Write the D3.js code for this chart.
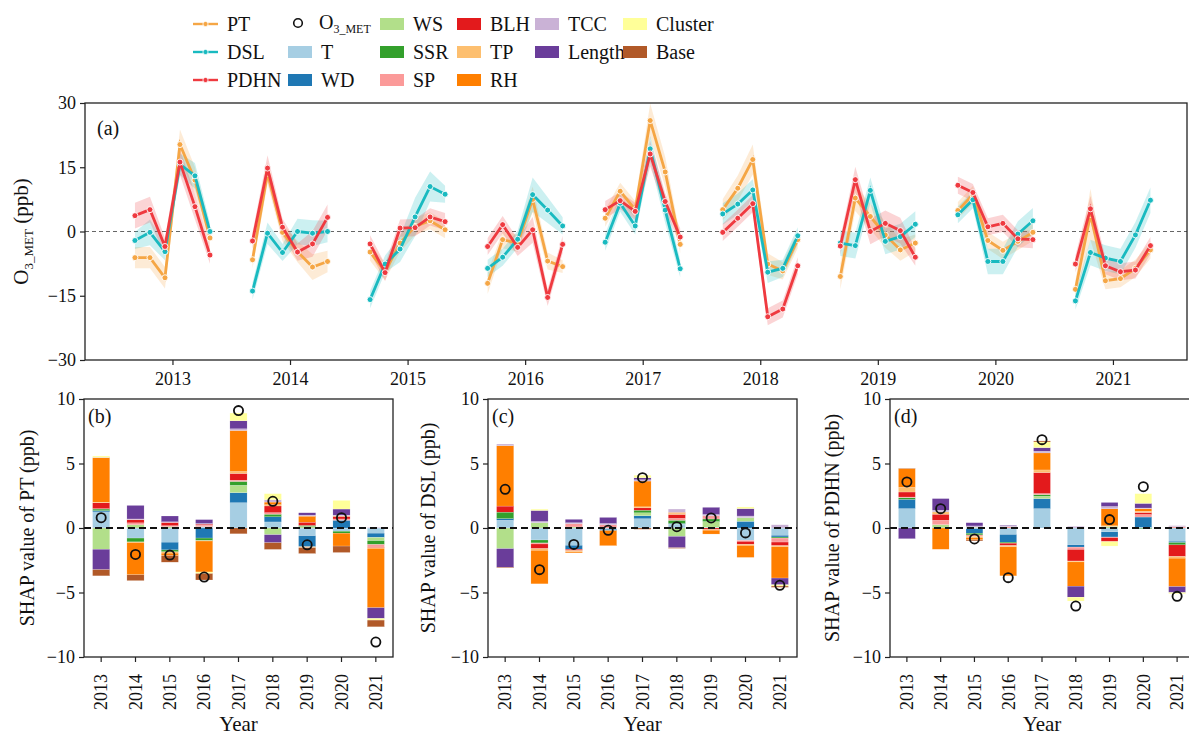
<!DOCTYPE html>
<meta charset="utf-8">
<style>
  body { margin: 0; background: #fff; }
  svg text { font-family: "Liberation Serif", "Times New Roman", serif; fill: #111; }
  .axis path, .axis line { stroke: #222; stroke-width: 1.2; }
  .axis text { font-size: 18px; }
</style>
<body>
<script src="https://cdnjs.cloudflare.com/ajax/libs/d3/7.8.5/d3.min.js"></script>
<script>

// ---- data ----
var years = [2013, 2014, 2015, 2016, 2017, 2018, 2019, 2020, 2021];
var seriesNames = ['PT', 'DSL', 'PDHN'];

// panel (a): six points per year
var ptVals = [
  [-6.1, -6.1, -10.8, 20.3, 12.0, -1.5],
  [-6.6, 13.6, -0.2, -4.7, -8.3, -7.0],
  [-4.8, -9.4, -2.7, 1.2, 2.5, 0.4],
  [-12.1, -1.9, -2.7, 7.5, -6.9, -8.2],
  [3.1, 9.4, 5.1, 25.9, 13.9, -3.0],
  [5.1, 10.1, 16.8, -7.6, -9.2, -1.9],
  [-10.5, 7.8, 3.5, -0.8, -4.3, -2.7],
  [4.9, 8.6, -2.1, -4.4, -2.3, -0.2],
  [-13.5, 4.0, -11.5, -11.0, -8.6, -4.3]
];
var dslVals = [
  [-2.1, -0.2, -4.7, 15.7, 13.0, 0.0],
  [-13.9, -0.4, -4.9, 0.0, -0.4, 0.0],
  [-15.9, -7.6, -4.1, 3.4, 10.5, 8.7],
  [-8.6, -6.0, -1.8, 8.6, 5.0, 1.3],
  [-2.5, 6.6, 1.3, 19.3, 5.0, -8.7],
  [4.1, 6.4, 9.7, -9.5, -8.6, -1.0],
  [-2.7, -3.3, 9.6, -2.3, -1.2, 1.7],
  [3.9, 7.4, -7.0, -7.0, -0.6, 2.5],
  [-16.2, -4.9, -6.2, -7.0, -0.8, 7.3]
];
var pdhnVals = [
  [3.7, 5.1, -3.5, 16.2, 5.8, -5.5],
  [-2.2, 14.8, 1.0, -4.8, -2.9, 3.3],
  [-2.9, -9.6, 0.8, 0.9, 3.4, 2.3],
  [-3.5, 1.6, -3.7, 0.4, -15.4, -3.0],
  [5.1, 7.2, 4.7, 18.1, 7.0, -1.3],
  [-0.2, 3.1, 6.5, -19.9, -18.1, -8.0],
  [-3.4, 12.1, 0.0, 1.9, 0.2, -6.0],
  [10.8, 9.1, 1.1, 1.9, -1.7, -1.9],
  [-7.6, 5.3, -8.0, -9.4, -9.0, -3.3]
];
// half widths of the shaded bands
var ptBand = [
  [2.5, 2.5, 2.5, 3.5, 3, 2], [2, 2.5, 2, 2.5, 3, 2.5], [2, 2, 2, 2, 2, 2],
  [2.5, 2, 2, 3, 2, 1.5], [2, 2, 2, 4, 3.5, 2], [2.5, 3, 3.5, 2.5, 2, 2],
  [3, 3, 3, 3, 2.5, 2], [2, 2, 2, 2, 2, 2], [2, 6, 2, 2, 2, 2]
];
var dslBand = [
  [2, 3, 2, 2.5, 3, 2], [2, 2.5, 2, 3, 3, 2.5], [2, 2, 3, 4.5, 3.5, 2],
  [2, 2, 2, 4, 3, 2], [2, 2, 2, 3, 3, 2], [2.5, 2.5, 2.5, 2.5, 2, 2],
  [3, 3, 3, 3, 3, 3], [2, 2, 3, 3, 3, 3], [2, 3, 3, 3, 3, 3]
];
var pdhnBand = [
  [3, 3, 2, 3, 3, 2], [2, 3, 2, 2, 3, 3], [2, 2, 2, 2, 2, 2],
  [2, 2, 2, 3, 2, 2], [2, 2, 2, 3, 2, 2], [2, 2, 2, 2, 2, 2],
  [2, 3, 3, 3, 3, 2], [2, 2, 2, 2, 2, 2], [2, 3, 2, 2, 2, 2]
];

// panels (b)-(d): SHAP contributions, one row per year
var features = ['T', 'WD', 'WS', 'SSR', 'SP', 'BLH', 'TP', 'RH', 'TCC', 'Length', 'Cluster', 'Base'];
var shapPT = [
  [1.25, 0.1, -1.65, 0.12, 0.03, 0.45, 0.05, 3.45, 0.03, -1.58, 0.1, -0.48],
  [-0.78, 0, 0.25, -0.3, 0.15, 0.25, -0.05, -2.5, 0.05, 1.05, 0, -0.45],
  [-1.1, -0.6, 0.1, -0.15, 0.08, 0.25, -0.1, -0.2, 0.05, 0.45, 0, -0.5],
  [0.1, -0.78, 0, -0.2, 0.12, 0.08, -0.03, -2.4, 0.05, 0.3, -0.12, -0.5],
  [1.96, 0.78, 0.57, 0.3, 0.1, 0.52, 0.15, 3.18, 0.13, 0.62, 0.6, -0.45],
  [0.47, 0.4, -0.52, 0.2, 0.12, 0.52, 0.1, 0.2, 0.18, -0.62, 0.47, -0.52],
  [-0.6, -0.85, 0.12, 0.08, 0, 0.25, -0.08, 0.47, 0.08, 0.18, 0, -0.45],
  [-0.25, 0.6, 0, -0.15, 0.1, 0.2, 0.05, -1.0, 0.05, 0.47, 0.67, -0.5],
  [-0.4, -0.33, -0.25, -0.3, -0.2, -0.05, -0.05, -4.6, 0.05, -0.83, -0.13, -0.52]
];
var shapDSL = [
  [0.6, 0.13, -1.6, 0.5, 0, 0.47, 0, 4.68, 0.13, -1.45, 0, -0.05],
  [-0.93, 0, 0.41, -0.23, -0.08, -0.36, -0.13, -2.6, 0.1, 0.85, 0.1, 0],
  [-1.34, -0.31, 0.08, 0, 0.25, -0.1, -0.1, -0.08, 0.08, 0.26, 0, 0],
  [-0.1, -0.1, 0, 0, 0.25, 0, 0, -1.17, 0.1, 0.47, 0, 0],
  [0.72, 0.23, 0.23, 0.2, 0, 0.18, 0.08, 2.0, 0.1, 0.15, 0.2, -0.1],
  [0.3, 0.05, -0.65, 0.25, 0.15, 0.3, 0.08, 0.08, 0.26, -0.88, 0, -0.05],
  [0.05, 0, 0.45, 0.2, 0.25, -0.12, -0.05, -0.3, 0.1, 0.55, 0, 0],
  [-0.96, 0.52, 0.28, 0, -0.08, -0.23, -0.08, -0.93, 0.13, 0.57, 0.13, 0],
  [-0.57, -0.13, 0, -0.08, -0.31, -0.28, -0.08, -2.43, 0.25, -0.52, -0.1, -0.1]
];
var shapPDHN = [
  [1.5, 0.72, 0, 0.13, 0.05, 0.39, 0.36, 1.45, 0, -0.83, 0, 0.03],
  [0, 0, 0.26, 0, 0.34, 0.47, 0.18, -1.65, 0.13, 0.9, 0, 0],
  [-0.05, -0.36, 0.06, -0.13, -0.1, 0, -0.1, -0.18, 0.1, 0.25, 0, -0.08],
  [-0.5, -0.6, 0, -0.08, 0.1, -0.18, -0.1, -2.25, 0.05, 0.05, 0, 0],
  [1.5, 0.78, 0.18, 0.13, 0.08, 1.63, 0.2, 1.32, 0.13, 0.28, 0.44, 0.08],
  [-1.3, -0.18, 0, 0, -0.18, -0.9, -0.07, -1.88, 0.13, -0.85, -0.3, 0],
  [-0.3, -0.4, 0.12, 0, -0.05, -0.3, 0.05, 1.32, 0.18, 0.31, -0.35, 0],
  [0.05, 0.8, 0, -0.05, 0.2, 0.15, 0.1, 0.2, 0.05, 0.36, 0.75, 0],
  [-1.03, -0.1, 0, -0.18, 0.1, -0.9, -0.13, -2.2, 0.08, -0.46, -0.1, 0]
];
var o3PT = [0.8, -2.05, -2.1, -3.8, 9.1, 2.07, -1.3, 0.8, -8.84];
var o3DSL = [3.0, -3.23, -1.27, -0.18, 3.9, 0.1, 0.78, -0.38, -4.44];
var o3PDHN = [3.57, 1.5, -0.85, -3.85, 6.85, -6.05, 0.65, 3.2, -5.3];

var aTicks = [-30, -15, 0, 15, 30];
var barTicks = [-10, -5, 0, 5, 10];

// ---- style ----
var serif = '"Liberation Serif", "Times New Roman", serif';
var seriesColors = { PT: '#f5a645', DSL: '#19bac0', PDHN: '#ef3a40' };
var featureColors = d3.schemePaired; // T, WD, WS, SSR, SP, BLH, TP, RH, TCC, Length, Cluster, Base
var W = 1189, H = 736;

var svg = d3.select('body').append('svg').attr('width', W).attr('height', H);

// ================= panel (a) =================
var aL = 85, aR = 1187, aT = 103, aB = 360;
var step = 0.1276; // spacing of the six points inside a year
var xa = d3.scaleLinear().domain([2012.256, 2021.63]).range([aL, aR]);
var ya = d3.scaleLinear().domain([-30, 30]).range([aB, aT]);

var pa = svg.append('g');
pa.append('line').attr('x1', aL).attr('x2', aR).attr('y1', ya(0)).attr('y2', ya(0))
  .attr('stroke', '#555').attr('stroke-width', 0.9).attr('stroke-dasharray', '4,3');

var allSeries = [
  { name: 'PT', vals: ptVals, band: ptBand },
  { name: 'DSL', vals: dslVals, band: dslBand },
  { name: 'PDHN', vals: pdhnVals, band: pdhnBand }
];

var area = d3.area().x(function (d) { return xa(d.x); })
  .y0(function (d) { return ya(d.y - d.e); }).y1(function (d) { return ya(d.y + d.e); });
var line = d3.line().x(function (d) { return xa(d.x); }).y(function (d) { return ya(d.y); });

allSeries.forEach(function (s) {
  years.forEach(function (yr, i) {
    var pts = s.vals[i].map(function (v, j) {
      return { x: yr + (j - 2.5) * step, y: v, e: s.band[i][j] };
    });
    pa.append('path').datum(pts).attr('d', area)
      .attr('fill', seriesColors[s.name]).attr('fill-opacity', 0.22).attr('stroke', 'none');
  });
});
allSeries.forEach(function (s) {
  years.forEach(function (yr, i) {
    var pts = s.vals[i].map(function (v, j) {
      return { x: yr + (j - 2.5) * step, y: v };
    });
    pa.append('path').datum(pts).attr('d', line)
      .attr('fill', 'none').attr('stroke', seriesColors[s.name]).attr('stroke-width', 2.8);
    pa.selectAll(null).data(pts).enter().append('circle')
      .attr('cx', function (d) { return xa(d.x); }).attr('cy', function (d) { return ya(d.y); })
      .attr('r', 3).attr('fill', seriesColors[s.name]).attr('stroke', '#fff').attr('stroke-width', 0.9);
  });
});

pa.append('rect').attr('x', aL).attr('y', aT).attr('width', aR - aL).attr('height', aB - aT)
  .attr('fill', 'none').attr('stroke', '#222').attr('stroke-width', 1.3);
pa.append('g').attr('class', 'axis').attr('transform', 'translate(0,' + aB + ')')
  .call(d3.axisBottom(xa).tickValues(years).tickFormat(d3.format('d')).tickSize(5).tickPadding(7))
  .call(function (g) { g.select('.domain').remove(); })
  .attr('font-family', serif);
pa.append('g').attr('class', 'axis').attr('transform', 'translate(' + aL + ',0)')
  .call(d3.axisLeft(ya).tickValues(aTicks).tickFormat(d3.format('d')).tickSize(5).tickPadding(4))
  .call(function (g) { g.select('.domain').remove(); })
  .attr('font-family', serif);

pa.append('text').attr('x', 97).attr('y', 135).style('font-size', '20px').text('(a)');
var alab = pa.append('text').attr('transform', 'translate(28,' + ya(0) + ') rotate(-90)')
  .attr('text-anchor', 'middle').style('font-size', '21px');
alab.append('tspan').text('O');
alab.append('tspan').attr('dy', 5).style('font-size', '13px').text('3_MET');
alab.append('tspan').attr('dy', -5).text(' (ppb)');

// ================= panels (b)-(d) =================
var bT = 399, bB = 657;
var yb = d3.scaleLinear().domain([-10, 10]).range([bB, bT]);

function barPanel(left, bW, shap, o3, tag, name, labelX) {
  var g = svg.append('g');
  var xb = d3.scaleBand().domain(years).range([left, left + bW]).paddingInner(0.5).paddingOuter(0.25);

  years.forEach(function (yr, i) {
    var pos = 0, neg = 0;
    shap[i].forEach(function (v, k) {
      if (v === 0) return;
      var y0, y1;
      if (v > 0) { y0 = pos; y1 = pos + v; pos = y1; }
      else { y0 = neg; y1 = neg + v; neg = y1; }
      g.append('rect').attr('x', xb(yr)).attr('width', xb.bandwidth())
        .attr('y', yb(Math.max(y0, y1))).attr('height', Math.abs(yb(y0) - yb(y1)))
        .attr('fill', featureColors[k]).attr('stroke', '#fff').attr('stroke-width', 0.3).attr('stroke-opacity', 0.6);
    });
  });

  g.append('line').attr('x1', left).attr('x2', left + bW).attr('y1', yb(0)).attr('y2', yb(0))
    .attr('stroke', '#111').attr('stroke-width', 2).attr('stroke-dasharray', '7,4');

  g.selectAll(null).data(o3).enter().append('circle')
    .attr('cx', function (d, i) { return xb(years[i]) + xb.bandwidth() / 2; })
    .attr('cy', function (d) { return yb(d); })
    .attr('r', 4.6).attr('fill', 'none').attr('stroke', '#111').attr('stroke-width', 1.8);

  g.append('rect').attr('x', left).attr('y', bT).attr('width', bW).attr('height', bB - bT)
    .attr('fill', 'none').attr('stroke', '#222').attr('stroke-width', 1.3);

  var xAxis = g.append('g').attr('class', 'axis').attr('transform', 'translate(0,' + bB + ')')
    .call(d3.axisBottom(xb).tickSize(5).tickPadding(4))
    .call(function (s) { s.select('.domain').remove(); })
    .attr('font-family', serif);
  xAxis.selectAll('.tick text').attr('x', 0).attr('y', 0)
    .attr('text-anchor', 'end').attr('dx', '-0.45em').attr('dy', '0.35em')
    .attr('transform', 'translate(0,9) rotate(-90)');

  g.append('g').attr('class', 'axis').attr('transform', 'translate(' + left + ',0)')
    .call(d3.axisLeft(yb).tickValues(barTicks).tickFormat(d3.format('d')).tickSize(5).tickPadding(4))
    .call(function (s) { s.select('.domain').remove(); })
    .attr('font-family', serif);

  g.append('text').attr('x', left + 4).attr('y', bT + 24).style('font-size', '20px').text(tag);
  g.append('text').attr('x', left + bW / 2).attr('y', 731).attr('text-anchor', 'middle')
    .style('font-size', '21px').text('Year');
  g.append('text').attr('transform', 'translate(' + labelX + ',' + yb(0) + ') rotate(-90)')
    .attr('text-anchor', 'middle').attr('dy', '0.35em').style('font-size', '20px')
    .text('SHAP value of ' + name + ' (ppb)');
}

barPanel(84, 309, shapPT, o3PT, '(b)', 'PT', 27);
barPanel(488, 309, shapDSL, o3DSL, '(c)', 'DSL', 428);
barPanel(890, 304, shapPDHN, o3PDHN, '(d)', 'PDHN', 832);

// ================= legend =================
var lg = svg.append('g');
var rowY = [24, 52, 80];
seriesNames.forEach(function (n, i) {
  var y = rowY[i];
  lg.append('line').attr('x1', 193).attr('x2', 218).attr('y1', y).attr('y2', y)
    .attr('stroke', seriesColors[n]).attr('stroke-width', 2.4);
  lg.append('circle').attr('cx', 205.5).attr('cy', y).attr('r', 2.6)
    .attr('fill', seriesColors[n]).attr('stroke', '#fff').attr('stroke-width', 0.8);
  lg.append('text').attr('x', 227).attr('y', y + 7).style('font-size', '20px').text(n);
});
lg.append('circle').attr('cx', 298).attr('cy', 23).attr('r', 4.3)
  .attr('fill', 'none').attr('stroke', '#111').attr('stroke-width', 1.6);
var o3t = lg.append('text').attr('x', 319).attr('y', 29).style('font-size', '20px');
o3t.append('tspan').text('O');
o3t.append('tspan').attr('dy', 4).style('font-size', '12px').text('3_MET');

var legendCols = [
  { x: 288, items: ['T', 'WD'], rows: [1, 2] },
  { x: 380, items: ['WS', 'SSR', 'SP'], rows: [0, 1, 2] },
  { x: 457, items: ['BLH', 'TP', 'RH'], rows: [0, 1, 2] },
  { x: 535, items: ['TCC', 'Length'], rows: [0, 1] },
  { x: 623, items: ['Cluster', 'Base'], rows: [0, 1] }
];
legendCols.forEach(function (c) {
  c.items.forEach(function (f, j) {
    var y = rowY[c.rows[j]];
    lg.append('rect').attr('x', c.x).attr('y', y - 6).attr('width', 24).attr('height', 12)
      .attr('fill', featureColors[features.indexOf(f)]);
    lg.append('text').attr('x', c.x + 33).attr('y', y + 7).style('font-size', '20px').text(f);
  });
});

</script>
</body>
</html>
